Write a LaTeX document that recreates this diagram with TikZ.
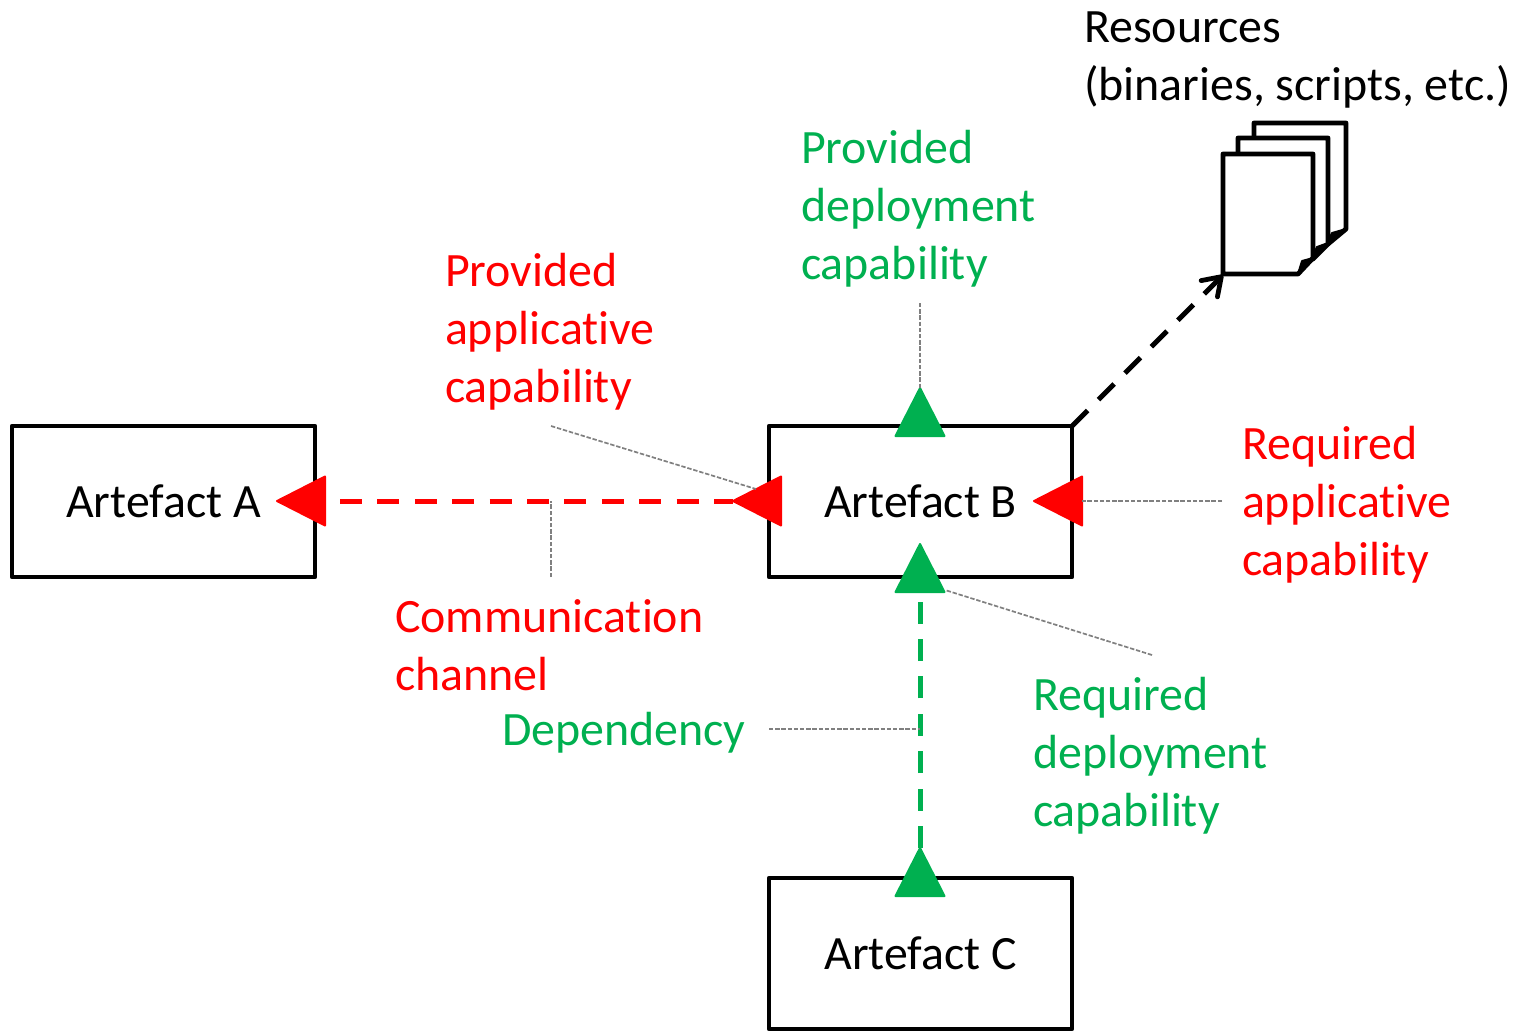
\documentclass[tikz,border=0pt]{standalone}
\usepackage{fontspec}
\setmainfont[Ligatures=NoCommon]{Carlito}
\usetikzlibrary{shapes.geometric,arrows.meta}
\definecolor{tred}{HTML}{FF0000}
\definecolor{tgreen}{HTML}{00B050}
\tikzset{
  x=0.5pt,y=-0.5pt,
  every node/.style={inner sep=0pt,outer sep=0pt},
  box/.style={draw=black,line width=2.4pt,fill=white,line join=round,minimum width=151.5pt,minimum height=75.5pt,font=\fontsize{23.9pt}{29pt}\selectfont},
  lbl/.style={anchor=base west,align=left,font=\fontsize{23.95pt}{29pt}\selectfont},
  tri/.style={isosceles triangle,isosceles triangle stretches,shape border uses incircle=false,minimum height=24pt,minimum width=24.5pt,line width=1pt,line join=round,anchor=apex},
  redtri/.style={tri,draw=tred,fill=tred,shape border rotate=180},
  greentri/.style={tri,draw=tgreen,fill=tgreen,shape border rotate=90},
  chan/.style={line width=2.5pt,dash pattern=on 11pt off 7.7pt},
  leader/.style={draw=gray,line width=0.85pt,dash pattern=on 2.2pt off 0.9pt},
  sheet/.style={draw=black,fill=white,line width=2.4pt,line join=round},
  curl/.style={draw=black,fill=black,line width=1pt,line join=round}
}
\begin{document}
\begin{tikzpicture}
\useasboundingbox (0,0) rectangle (1518,1030);
% boxes
\node[box] (A) at (163.5,501.5) {Artefact A};
\node[box] (B) at (920.5,501.5) {Artefact B};
\node[box] (C) at (920.5,953.5) {Artefact C};
% resources
\draw[sheet] (1254,123) -- (1346,123) -- (1346,229) -- (1328,244) -- (1254,244) -- cycle;
\fill[curl] (1346,229) -- (1332,233) -- (1326,246) -- cycle;
\draw[sheet] (1238,138) -- (1328,138) -- (1328,244) -- (1313,259) -- (1238,259) -- cycle;
\fill[curl] (1328,243) -- (1317,247) -- (1310,262) -- cycle;
\draw[sheet] (1223,154) -- (1313,154) -- (1313,258) -- (1298,274) -- (1223,274) -- cycle;
\fill[curl] (1313,258) -- (1302,261) -- (1298,274) -- cycle;
\coordinate (res) at (1223,275);
% triangles
\node[redtri] (ra) at (277,501) {};
\node[redtri] (rb) at (733,501) {};
\node[redtri] (rc) at (1034,501) {};
\node[greentri] (gt) at (920,388) {};
\node[greentri] (gm) at (920,544) {};
\node[greentri] (gb) at (920,848) {};
% connectors
\draw[chan,tred,dash phase=11.2pt] (ra.east) -- (rb.apex);
\draw[chan,tgreen] (gb.apex) -- (gm.south);
\draw[line width=2.5pt,dash pattern=on 11pt off 7.7pt,-{Straight Barb[length=8.5pt,width=11.5pt,line width=2.4pt,round]}] (B.north east) -- (res);
% leaders
\coordinate (l1a) at (920,303);
\coordinate (l2a) at (551,426);
\coordinate (l2b) at (756,489);
\coordinate (l3a) at (551,577);
\coordinate (l3b) at (551,501);
\coordinate (l4a) at (1222,501);
\coordinate (l5a) at (1152,655);
\coordinate (l5b) at (945,590);
\coordinate (l6a) at (769,729);
\coordinate (l6b) at (920,729);
\draw[leader] (l1a) -- (gt.apex);
\draw[leader] (l2a) -- (l2b);
\draw[leader] (l3a) -- (l3b);
\draw[leader] (l4a) -- (rc.east);
\draw[leader] (l5a) -- (l5b);
\draw[leader] (l6a) -- (l6b);
% labels
\node[lbl] (t1) at (1084,100) {Resources\\(binaries, scripts, etc.)};
\node[lbl,text=tgreen] (t2) at (801,279) {Provided\\deployment\\capability};
\node[lbl,text=tred] (t3) at (445,402) {Provided\\applicative\\capability};
\node[lbl,text=tred] (t4) at (1242,575) {Required\\applicative\\capability};
\node[lbl,text=tred] (t5) at (395,690) {Communication\\channel};
\node[lbl,text=tgreen] (t6) at (502,745) {Dependency};
\node[lbl,text=tgreen] (t7) at (1033,826) {Required\\deployment\\capability};
\end{tikzpicture}
\end{document}
